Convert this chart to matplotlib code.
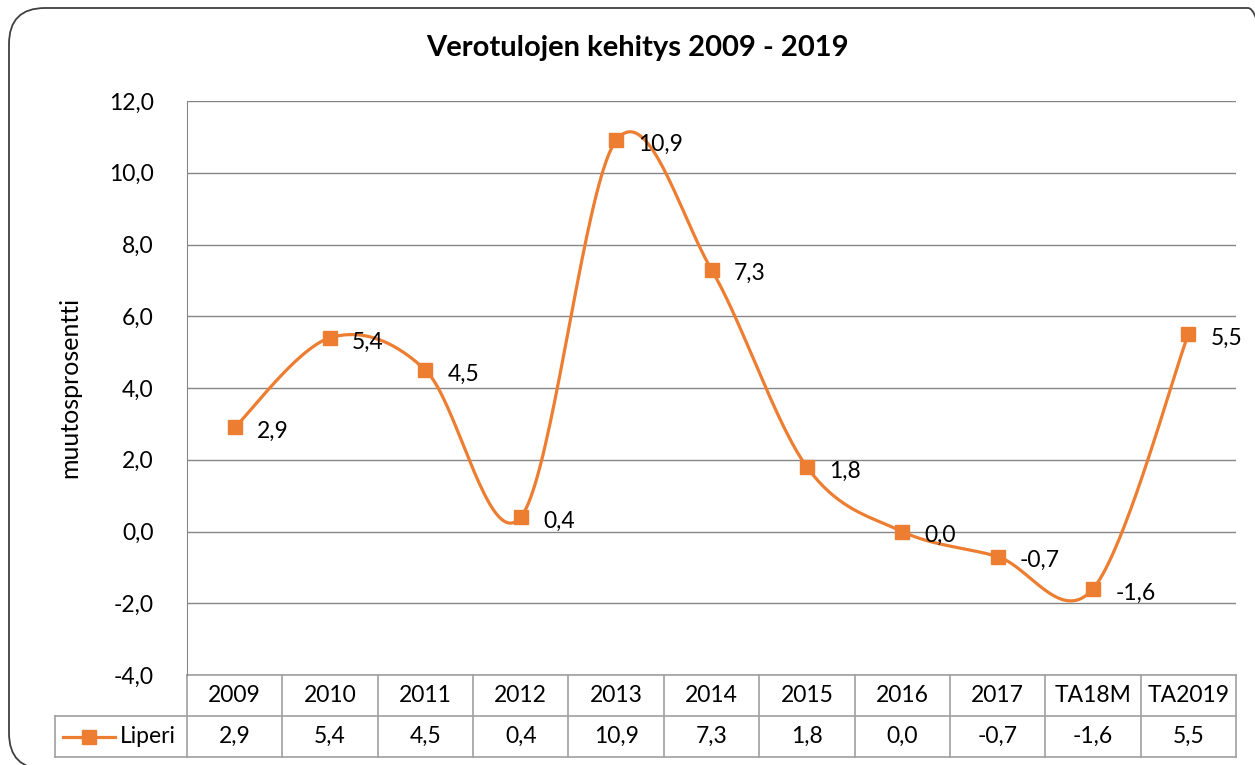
import numpy as np
import matplotlib
matplotlib.use("Agg")
import matplotlib.pyplot as plt
from matplotlib.patches import FancyBboxPatch
from matplotlib.lines import Line2D

# data
categories = ["2009", "2010", "2011", "2012", "2013", "2014", "2015", "2016", "2017", "TA18M", "TA2019"]
values = [2.9, 5.4, 4.5, 0.4, 10.9, 7.3, 1.8, 0.0, -0.7, -1.6, 5.5]
series_name = "Liperi"
title = "Verotulojen kehitys 2009 - 2019"
y_label = "muutosprosentti"
y_ticks = [-4, -2, 0, 2, 4, 6, 8, 10, 12]

orange = "#ED7D31"
grid_col = "#868686"
table_col = "#A0A0A0"

plt.rcParams['font.family'] = ['Lato', 'DejaVu Sans']


def fmt(v):
    return ("%.1f" % v).replace(".", ",")


def smooth(xs, ys, n=40):
    # excel style smoothed line (bezier through the points)
    pts = np.column_stack([xs, ys]).astype(float)
    out = []
    for i in range(len(pts) - 1):
        p0 = pts[i - 1] if i > 0 else pts[i]
        p1 = pts[i]
        p2 = pts[i + 1]
        p3 = pts[i + 2] if i + 2 < len(pts) else pts[i + 1]
        c1 = p1 + (p2 - p0) / 6
        c2 = p2 - (p3 - p1) / 6
        t = np.linspace(0, 1, n)[:, None]
        seg = (1 - t) ** 3 * p1 + 3 * (1 - t) ** 2 * t * c1 + 3 * (1 - t) * t ** 2 * c2 + t ** 3 * p2
        out.append(seg if i == 0 else seg[1:])
    out = np.vstack(out)
    return out[:, 0], out[:, 1]


fig = plt.figure(figsize=(12.55, 7.65), dpi=100)
ax = fig.add_axes([187 / 1255, 1 - 675 / 765, (1236 - 187) / 1255, (675 - 101) / 765])

x = np.arange(len(categories))
sx, sy = smooth(x, values)
ax.plot(sx, sy, color=orange, lw=2.3, zorder=3, solid_capstyle='round')
ax.plot(x, values, ls='none', marker='s', ms=9.5, color=orange, zorder=4)

for xi, v in zip(x, values):
    ax.annotate(fmt(v), (xi, v), xytext=(16, -3), textcoords='offset points',
                ha='left', va='center', fontsize=16.5, color='black', zorder=5,
                annotation_clip=False)

ax.set_xlim(-0.5, len(categories) - 0.5)
ax.set_ylim(-4, 12)
ax.set_yticks(y_ticks)
ax.set_yticklabels([fmt(v) for v in y_ticks], fontsize=16.5)
ax.tick_params(axis='y', length=0, pad=24)
ax.set_xticks([])
ax.yaxis.grid(True, color=grid_col, lw=1)
ax.set_axisbelow(True)
for s in ['top', 'right', 'bottom']:
    ax.spines[s].set_visible(False)
ax.spines['left'].set_color(grid_col)
ax.set_ylabel(y_label, fontsize=18, labelpad=20)

fig.text(637 / 1255, 1 - 48 / 765, title, ha='center', va='center', fontsize=21, fontweight='bold')

# data table below the axis
row_h = 41 / 574
left_edge = -0.5 - 132 / ((1236 - 187) / len(categories))
tr = ax.get_xaxis_transform()
kw = dict(color=table_col, lw=1.2, transform=tr, clip_on=False)
ax.plot([-0.5, len(categories) - 0.5], [0, 0], **kw)
ax.plot([left_edge, len(categories) - 0.5], [-row_h, -row_h], **kw)
ax.plot([left_edge, len(categories) - 0.5], [-2 * row_h, -2 * row_h], **kw)
ax.plot([left_edge, left_edge], [-row_h, -2 * row_h], **kw)
for b in np.arange(len(categories) + 1) - 0.5:
    ax.plot([b, b], [0, -2 * row_h], **kw)
for xi, c, v in zip(x, categories, values):
    ax.text(xi, -row_h / 2, c, ha='center', va='center', fontsize=16.5, transform=tr)
    ax.text(xi, -1.5 * row_h, fmt(v), ha='center', va='center', fontsize=16.5, transform=tr)

# legend key in the table
ax.add_line(Line2D([left_edge + 0.08, left_edge + 0.63], [-1.5 * row_h, -1.5 * row_h],
                   color=orange, lw=2.3, transform=tr, clip_on=False))
ax.plot([left_edge + 0.355], [-1.5 * row_h], marker='s', ms=9.5, color=orange,
        transform=tr, clip_on=False)
ax.text(left_edge + 0.68, -1.5 * row_h, series_name, ha='left', va='center', fontsize=16.5, transform=tr)

# rounded chart frame
frame = FancyBboxPatch((9, -4), 1275, 761, boxstyle="round,pad=0,rounding_size=36",
                       transform=None, fill=False, ec='#404040', lw=1.3)
fig.patches.append(frame)

fig.savefig("out.png", dpi=100)
